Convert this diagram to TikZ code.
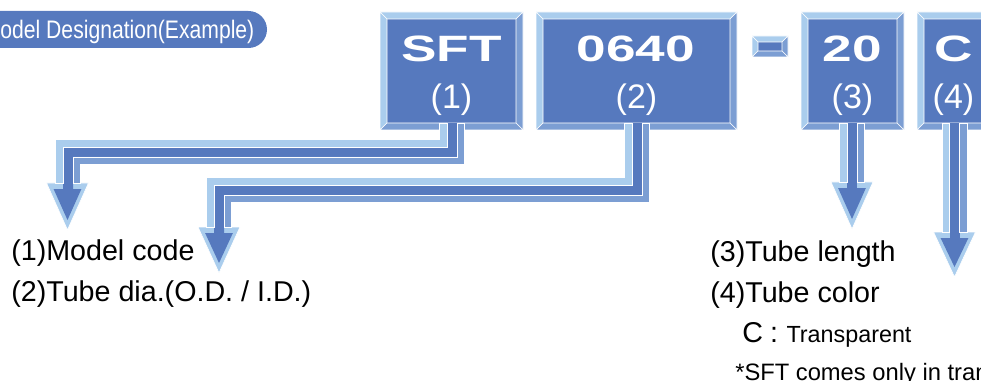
\documentclass[tikz,border=0pt]{standalone}
\usepackage{fontspec}
\setmainfont{Liberation Sans}
\usepackage{graphicx}
\definecolor{core}{RGB}{86,121,190}
\definecolor{lite}{RGB}{170,205,237}
\definecolor{med}{RGB}{124,158,211}
\tikzset{
  bevl/.style={draw=white, line width=0.5pt, line join=miter},
  boxn/.style={fill=core, inner sep=0pt, outer sep=0pt},
  bigt/.style={text=white, inner sep=0pt, font=\fontsize{27.5}{28}\selectfont\bfseries},
  part/.style={text=white, inner sep=0pt, font=\fontsize{25.5}{26}\selectfont},
  lab/.style={anchor=west, inner sep=0pt, font=\fontsize{21.5}{22}\selectfont},
}
\newcommand\bevelrect[2]{%
  \fill[lite,bevl] (#1.north west) -- (#1.north east) -- ([shift={(-#2,-#2)}]#1.north east) -- ([shift={(#2,-#2)}]#1.north west) -- cycle;
  \fill[lite,bevl] (#1.north west) -- (#1.south west) -- ([shift={(#2,#2)}]#1.south west) -- ([shift={(#2,-#2)}]#1.north west) -- cycle;
  \fill[med,bevl] (#1.north east) -- (#1.south east) -- ([shift={(-#2,#2)}]#1.south east) -- ([shift={(-#2,-#2)}]#1.north east) -- cycle;
  \fill[med,bevl] (#1.south west) -- (#1.south east) -- ([shift={(-#2,#2)}]#1.south east) -- ([shift={(#2,#2)}]#1.south west) -- cycle;
}
\newcommand\ahead[3]{%
  \fill[lite,bevl] (#1-21,#2) -- (#1+21,#2) -- (#1,#3) -- cycle;
  \fill[core] (#1-13.9,#2+6) -- (#1+13.9,#2+6) -- (#1,#3-10) -- cycle;
}
\begin{document}
\begin{tikzpicture}[x=0.75pt,y=-0.75pt]
\useasboundingbox (0,0) rectangle (981,381);
% header pill
\fill[core,rounded corners=13.9pt] (-40,11) rectangle (267,48);
\node[anchor=base west, inner sep=0pt, text=white, font=\fontsize{19}{20}\selectfont] (hdr) at (-17.5,38.5) {\scalebox{0.835}[1]{Model Designation(Example)}};
% boxes
\node[boxn, minimum width=107.25pt, minimum height=88.5pt] (sft) at (451.5,71) {};
\bevelrect{sft}{5.25pt}
\node[boxn, minimum width=150.75pt, minimum height=88.5pt] (dia) at (636.5,71) {};
\bevelrect{dia}{5.25pt}
\node[boxn, minimum width=27pt, minimum height=15.75pt] (dash) at (770,46.5) {};
\bevelrect{dash}{4.5pt}
\node[boxn, minimum width=77.25pt, minimum height=88.5pt] (len) at (852.5,71) {};
\bevelrect{len}{5.25pt}
\node[boxn, minimum width=54.75pt, minimum height=88.5pt] (col) at (953.5,71) {};
\bevelrect{col}{5.25pt}
% box texts
\node[bigt] (t1) at (451.5,48.5) {\scalebox{1.45}[1]{SFT}};
\node[bigt] (t2) at (636,48.5) {\scalebox{1.45}[1]{0640}};
\node[bigt] (t3) at (852.5,48.5) {\scalebox{1.45}[1]{20}};
\node[bigt] (t4) at (953.5,48.5) {\scalebox{1.45}[1]{C}};
\node[part] (p1) at (451.5,100) {(1)};
\node[part] (p2) at (636.5,100) {(2)};
\node[part] (p3) at (852.5,100) {(3)};
\node[part] (p4) at (953.5,100) {(4)};
% arrow 1
\ahead{67.5}{183}{230}
\fill[core] (447,123) -- (447,147) -- (63,147) -- (63,190) -- (73,190) -- (73,157) -- (457,157) -- (457,123) -- cycle;
\fill[lite,bevl] (439.5,123) -- (439.5,139.5) -- (55.5,139.5) -- (55.5,183) -- (63,183) -- (63,147) -- (447,147) -- (447,123) -- cycle;
\fill[med,bevl] (464.5,123) -- (464.5,164.5) -- (80.5,164.5) -- (80.5,183) -- (73,183) -- (73,157) -- (457,157) -- (457,123) -- cycle;
% arrow 2
\ahead{219}{227}{273}
\fill[core] (632,123) -- (632,185) -- (214,185) -- (214,234) -- (224,234) -- (224,195) -- (642,195) -- (642,123) -- cycle;
\fill[lite,bevl] (624.5,123) -- (624.5,177.5) -- (206.5,177.5) -- (206.5,227) -- (214,227) -- (214,185) -- (632,185) -- (632,123) -- cycle;
\fill[med,bevl] (649.5,123) -- (649.5,202.5) -- (231.5,202.5) -- (231.5,227) -- (224,227) -- (224,195) -- (642,195) -- (642,123) -- cycle;
% arrow 3
\ahead{852}{182}{229}
\fill[core] (847,123) rectangle (857,189);
\fill[lite,bevl] (839.5,123) -- (839.5,182) -- (847,182) -- (847,123) -- cycle;
\fill[med,bevl] (864.5,123) -- (864.5,182) -- (857,182) -- (857,123) -- cycle;
% arrow 4
\ahead{954.5}{232}{277}
\fill[core] (949.5,123) rectangle (959.5,239);
\fill[lite,bevl] (942,123) -- (942,232) -- (949.5,232) -- (949.5,123) -- cycle;
\fill[med,bevl] (967,123) -- (967,232) -- (959.5,232) -- (959.5,123) -- cycle;
% labels
\node[lab] (l1) at (11,253.5) {(1)Model code};
\node[lab] (l2) at (11,294) {(2)Tube dia.(O.D. / I.D.)};
\node[lab] (l3) at (710,254) {(3)Tube length};
\node[lab] (l4) at (710,295) {(4)Tube color};
\node[anchor=base west, inner sep=0pt, font=\fontsize{21.5}{22}\selectfont] (l5) at (742,342) {C\hspace{5.3pt}:\hspace{6.4pt}{\fontsize{17.5}{18}\selectfont Transparent}};
\node[anchor=base west, inner sep=0pt, font=\fontsize{17.8}{18}\selectfont] (l6) at (735,380) {*SFT comes only in transparent.};
\end{tikzpicture}
\end{document}
